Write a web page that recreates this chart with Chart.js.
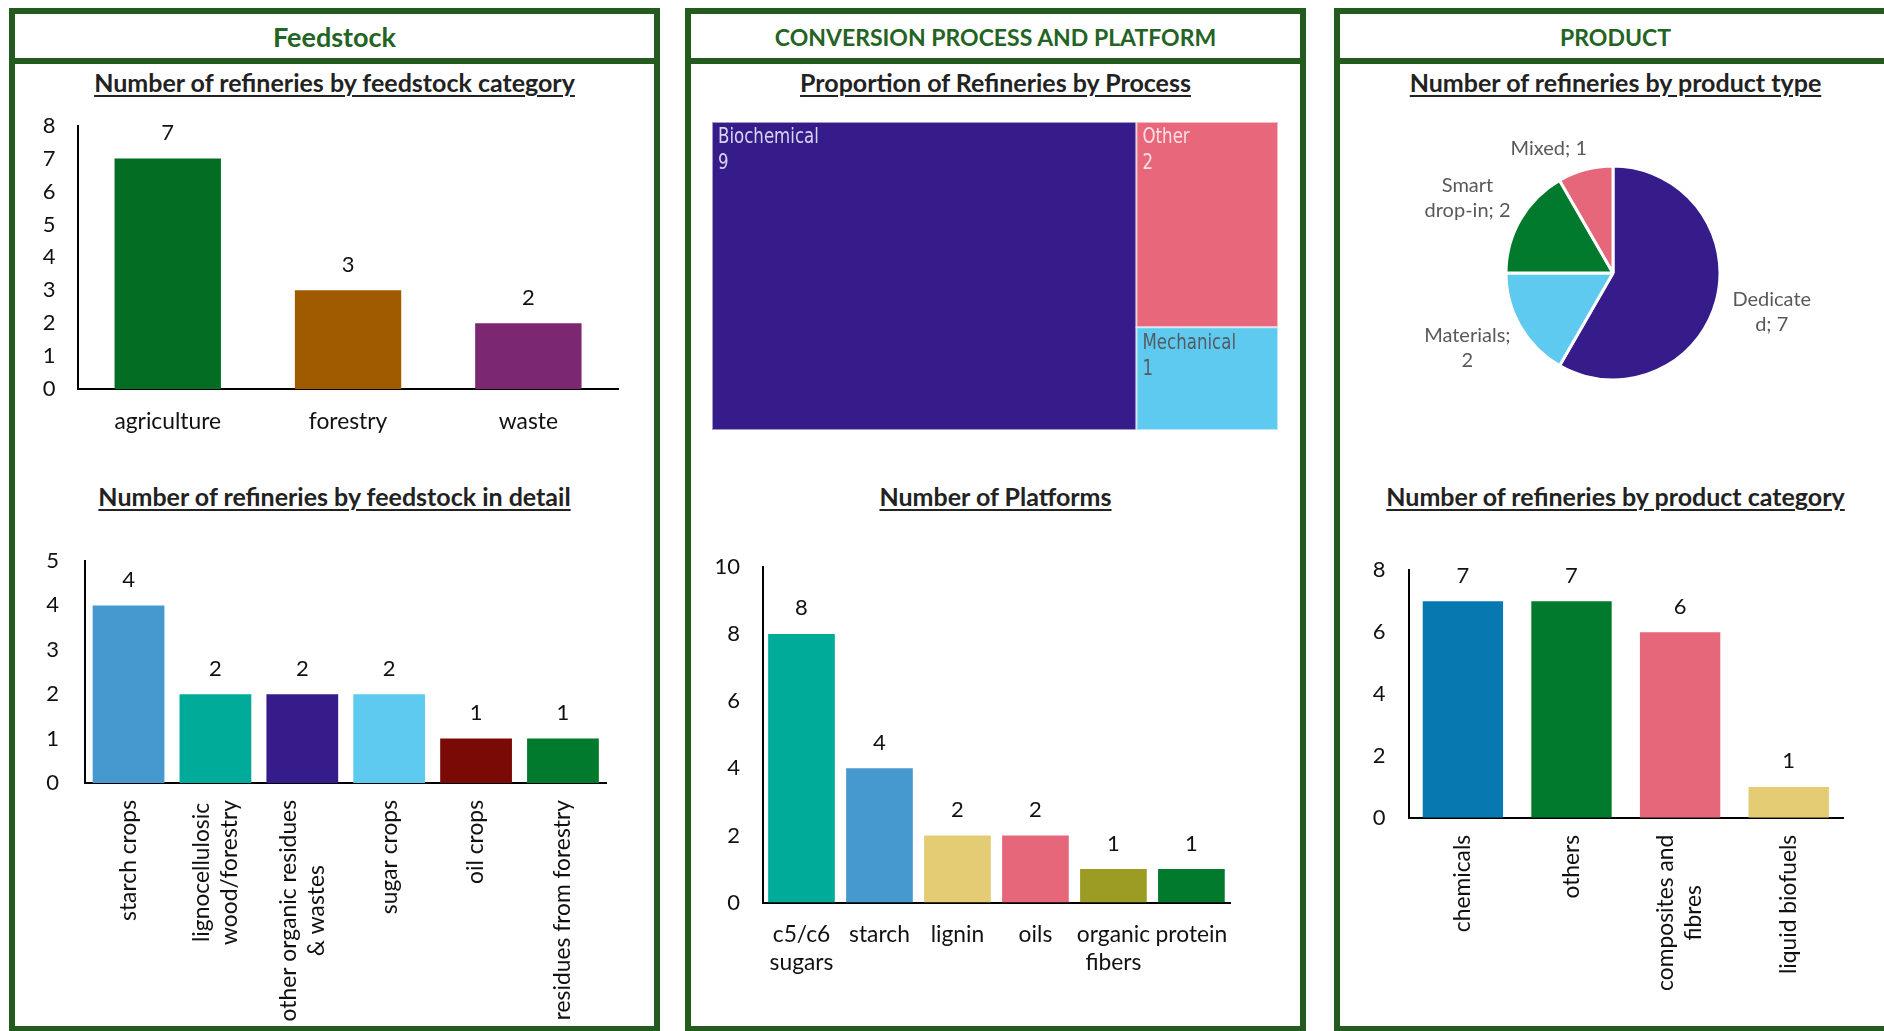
<!DOCTYPE html>
<html>
<head>
<meta charset="utf-8">
<title>Biorefineries overview</title>
<script src="https://cdn.jsdelivr.net/npm/chart.js@4.4.1/dist/chart.umd.min.js"></script>
<style>
  html, body { margin: 0; padding: 0; background: #ffffff; }
  body { width: 1884px; height: 1031px; position: relative; overflow: hidden; font-family: Lato, "Open Sans", sans-serif; }
  .panel { position: absolute; box-sizing: border-box; border: 6px solid #235b1f; top: 8px; height: 1024px; }
  .head { position: absolute; left: 0; right: 0; top: 0; height: 44px; border-bottom: 6px solid #235b1f;
          color: #236323; font-weight: 700; font-size: 23px; line-height: 46px; text-align: center; }
  .title { position: absolute; left: 0; right: 0; text-align: center; font-weight: 700; font-size: 25px;
           line-height: 30px; color: #222; }
  .title span { text-decoration: underline; text-decoration-thickness: 2px; text-underline-offset: 3px; }
  canvas { position: absolute; }
</style>
</head>
<body>

<div class="panel" style="left:9px; width:651px;">
  <div class="head" style="font-size:27px;">Feedstock</div>
  <div class="title" style="top:53px;"><span>Number of refineries by feedstock category</span></div>
  <div class="title" style="top:467px;"><span>Number of refineries by feedstock in detail</span></div>
</div>
<div class="panel" style="left:685px; width:621px;">
  <div class="head">CONVERSION PROCESS AND PLATFORM</div>
  <div class="title" style="top:53px;"><span>Proportion of Refineries by Process</span></div>
  <div class="title" style="top:467px;"><span>Number of Platforms</span></div>
</div>
<div class="panel" style="left:1334px; width:563px;">
  <div class="head">PRODUCT</div>
  <div class="title" style="top:53px;"><span>Number of refineries by product type</span></div>
  <div class="title" style="top:467px;"><span>Number of refineries by product category</span></div>
</div>

<canvas id="feedstockChart"></canvas>
<canvas id="feedstockDetailChart"></canvas>
<canvas id="processChart"></canvas>
<canvas id="platformChart"></canvas>
<canvas id="productTypeChart"></canvas>
<canvas id="productCategoryChart"></canvas>

<script>
// ---- data ----
const feedstockCategories = ['agriculture', 'forestry', 'waste'];
const feedstockCounts = [7, 3, 2];

const feedstockDetailLabels = ['starch crops', ['lignocellulosic', 'wood/forestry'], ['other organic residues', '& wastes'], 'sugar crops', 'oil crops', 'residues from forestry'];
const feedstockDetailCounts = [4, 2, 2, 2, 1, 1];

const processNames = ['Biochemical', 'Other', 'Mechanical'];
const processCounts = [9, 2, 1];

const platformLabels = [['c5/c6', 'sugars'], 'starch', 'lignin', 'oils', ['organic', 'fibers'], 'protein'];
const platformCounts = [8, 4, 2, 2, 1, 1];

const productTypes = ['Dedicated', 'Materials', 'Smart drop-in', 'Mixed'];
const productTypeCounts = [7, 2, 2, 1];

const productCategoryLabels = ['chemicals', 'others', ['composites and', 'fibres'], 'liquid biofuels'];
const productCategoryCounts = [7, 7, 6, 1];

// value-axis tick ranges
const feedstockAxis = { max: 8, step: 1 };
const feedstockDetailAxis = { max: 5, step: 1 };
const platformAxis = { max: 10, step: 2 };
const productCategoryAxis = { max: 8, step: 2 };

// ---- colours ----
const C = {
  green: '#017a2d', darkGreen: '#036e23', brown: '#a05a00', plum: '#7b2870',
  blue: '#4599cf', teal: '#00ac99', indigo: '#351c8a', sky: '#5ecaef',
  maroon: '#790a05', sand: '#e3cc74', rose: '#e7677a', olive: '#9c9b24', ocean: '#0878b0'
};

const TEXT = '#111111';
const FONT = 'Lato, "Open Sans", sans-serif';

// ---- plugins ----
const valueLabels = {
  id: 'valueLabels',
  afterDatasetsDraw(chart, args, opts) {
    const ctx = chart.ctx;
    const meta = chart.getDatasetMeta(0);
    const values = chart.data.datasets[0].data;
    ctx.save();
    ctx.font = opts.size + 'px ' + FONT;
    ctx.fillStyle = TEXT;
    ctx.textAlign = 'center';
    ctx.textBaseline = 'middle';
    meta.data.forEach((bar, i) => ctx.fillText(String(values[i]), bar.x, bar.y - opts.offset));
    ctx.restore();
  }
};

const categoryLabels = {
  id: 'categoryLabels',
  afterDraw(chart, args, opts) {
    const ctx = chart.ctx;
    const xs = chart.scales.x;
    const base = xs.top;
    ctx.save();
    ctx.font = opts.size + 'px ' + FONT;
    ctx.fillStyle = TEXT;
    ctx.textAlign = 'center';
    ctx.textBaseline = 'middle';
    chart.data.labels.forEach((lab, i) => {
      const lines = Array.isArray(lab) ? lab : [lab];
      const x = xs.getPixelForValue(i);
      if (opts.rotate) {
        const maxW = Math.max(...lines.map(l => ctx.measureText(l).width));
        ctx.save();
        ctx.translate(x, base + opts.gap + maxW / 2);
        ctx.rotate(-Math.PI / 2);
        const n = lines.length;
        lines.forEach((l, j) => ctx.fillText(l, 0, (j - (n - 1) / 2) * opts.lineHeight));
        ctx.restore();
      } else {
        lines.forEach((l, j) => ctx.fillText(l, x, base + opts.gap + j * opts.lineHeight));
      }
    });
    ctx.restore();
  }
};

// place a canvas on the page and return its context
function placeCanvas(id, box) {
  const cv = document.getElementById(id);
  cv.style.left = box.left + 'px';
  cv.style.top = box.top + 'px';
  cv.width = box.width;
  cv.height = box.height;
  cv.style.width = box.width + 'px';
  cv.style.height = box.height + 'px';
  return cv.getContext('2d');
}

// vertical bar chart with plot area given in page pixels
function columnChart(id, box, area, labels, values, colors, axis, style) {
  const ctx = placeCanvas(id, box);
  return new Chart(ctx, {
    type: 'bar',
    data: {
      labels: labels,
      datasets: [{ data: values, backgroundColor: colors, borderWidth: 0,
                   categoryPercentage: 1, barPercentage: style.barRatio }]
    },
    options: {
      responsive: false, animation: false, devicePixelRatio: 1,
      layout: { padding: { left: 0, top: area.top - box.top,
                           right: box.left + box.width - area.right, bottom: 0 } },
      scales: {
        x: {
          grid: { display: false, drawTicks: false },
          border: { display: true, color: '#000', width: 2 },
          ticks: { display: false },
          afterFit: s => { s.height = box.top + box.height - area.bottom; }
        },
        y: {
          min: 0, max: axis.max,
          grid: { display: false, drawTicks: false },
          border: { display: true, color: '#000', width: 2 },
          ticks: { stepSize: axis.step, padding: style.tickPad, color: TEXT,
                   font: { family: FONT, size: 22 } },
          afterFit: s => { s.width = area.left - box.left; s.paddingTop = 0; s.paddingBottom = 0; }
        }
      },
      plugins: {
        legend: { display: false }, tooltip: { enabled: false },
        valueLabels: { size: 22, offset: 25.5 },
        categoryLabels: { size: 22.8, rotate: style.rotate, gap: style.labelGap, lineHeight: 28 }
      }
    },
    plugins: [valueLabels, categoryLabels]
  });
}

// ---- Feedstock panel ----
columnChart('feedstockChart',
  { left: 16, top: 80, width: 630, height: 360 },
  { left: 77.6, right: 618.5, top: 125.7, bottom: 389 },
  feedstockCategories, feedstockCounts, [C.darkGreen, C.brown, C.plum], feedstockAxis,
  { barRatio: 0.59, tickPad: 22, rotate: false, labelGap: 32.5 });

columnChart('feedstockDetailChart',
  { left: 16, top: 500, width: 630, height: 526 },
  { left: 85.1, right: 606.4, top: 561, bottom: 783 },
  feedstockDetailLabels, feedstockDetailCounts,
  [C.blue, C.teal, C.indigo, C.sky, C.maroon, C.green], feedstockDetailAxis,
  { barRatio: 0.826, tickPad: 26, rotate: true, labelGap: 17 });

// ---- Conversion process panel: slice-and-dice treemap on linear scales ----
const treemapCells = {
  id: 'treemapCells',
  afterDatasetsDraw(chart, args, opts) {
    const { ctx, scales: { x, y } } = chart;
    const vals = opts.values;
    const total = vals.reduce((a, b) => a + b, 0);
    // first item fills a full-height column, the rest stack in the remaining column
    const cells = [{ x0: 0, x1: vals[0], y0: 0, y1: 1 }];
    const rest = total - vals[0];
    let acc = 1;
    for (let i = 1; i < vals.length; i++) {
      const h = vals[i] / rest;
      cells.push({ x0: vals[0], x1: total, y0: acc - h, y1: acc });
      acc -= h;
    }
    ctx.save();
    cells.forEach((c, i) => {
      const px0 = x.getPixelForValue(c.x0), px1 = x.getPixelForValue(c.x1);
      const py0 = y.getPixelForValue(c.y1), py1 = y.getPixelForValue(c.y0);
      ctx.fillStyle = opts.colors[i];
      ctx.fillRect(px0, py0, px1 - px0, py1 - py0);
      ctx.strokeStyle = 'rgba(255,255,255,0.55)';
      ctx.lineWidth = 2;
      ctx.strokeRect(px0, py0, px1 - px0, py1 - py0);
      // condensed label text
      ctx.save();
      ctx.translate(px0 + 6, py0);
      ctx.scale(0.88, 1);
      ctx.fillStyle = opts.textColors[i];
      ctx.font = '21px "Liberation Sans Narrow", "DejaVu Sans Condensed", "Liberation Sans", sans-serif';
      ctx.textAlign = 'left';
      ctx.textBaseline = 'middle';
      ctx.fillText(opts.names[i], 0, 16);
      ctx.fillText(String(vals[i]), 0, 42);
      ctx.restore();
    });
    ctx.restore();
  }
};

(function () {
  const box = { left: 712, top: 122, width: 566, height: 308 };
  const ctx = placeCanvas('processChart', box);
  const total = processCounts.reduce((a, b) => a + b, 0);
  new Chart(ctx, {
    type: 'scatter',
    data: { datasets: [{ data: [], pointRadius: 0 }] },
    options: {
      responsive: false, animation: false, devicePixelRatio: 1,
      layout: { padding: 0 },
      scales: {
        x: { type: 'linear', min: 0, max: total, display: false },
        y: { type: 'linear', min: 0, max: 1, display: false }
      },
      plugins: {
        legend: { display: false }, tooltip: { enabled: false },
        treemapCells: { values: processCounts, names: processNames,
                        colors: [C.indigo, '#e8677a', C.sky],
                        textColors: ['#d9d5ee', '#fbe1e5', '#555b62'] }
      }
    },
    plugins: [treemapCells]
  });
})();

columnChart('platformChart',
  { left: 700, top: 510, width: 590, height: 480 },
  { left: 762.5, right: 1230.4, top: 566.7, bottom: 902.6 },
  platformLabels, platformCounts,
  [C.teal, C.blue, C.sand, C.rose, C.olive, C.green], platformAxis,
  { barRatio: 0.855, tickPad: 22.5, rotate: false, labelGap: 32.5 });

// ---- Product panel: pie with outside labels ----
const pieLabels = {
  id: 'pieLabels',
  afterDatasetsDraw(chart, args, opts) {
    const ctx = chart.ctx;
    const meta = chart.getDatasetMeta(0);
    const values = chart.data.datasets[0].data;
    ctx.save();
    ctx.font = opts.size + 'px ' + FONT;
    ctx.fillStyle = opts.color;
    ctx.textAlign = 'center';
    ctx.textBaseline = 'middle';
    const maxW = opts.wrapEm * opts.size;
    meta.data.forEach((arc, i) => {
      const text = chart.data.labels[i] + '; ' + values[i];
      // wrap on spaces, splitting words that do not fit
      const lines = [];
      let cur = '';
      text.split(' ').forEach(word => {
        const trial = cur ? cur + ' ' + word : word;
        if (ctx.measureText(trial).width <= maxW) { cur = trial; return; }
        if (cur) { lines.push(cur); cur = ''; }
        let w = word;
        while (ctx.measureText(w).width > maxW) {
          let k = w.length - 1;
          while (k > 1 && ctx.measureText(w.slice(0, k)).width > maxW) k--;
          lines.push(w.slice(0, k));
          w = w.slice(k);
        }
        cur = w;
      });
      if (cur) lines.push(cur);

      const p = arc.getProps(['x', 'y', 'startAngle', 'endAngle', 'outerRadius'], true);
      const mid = (p.startAngle + p.endAngle) / 2;
      const cos = Math.cos(mid), sin = Math.sin(mid);
      const r = p.outerRadius + opts.gap;
      const w = Math.max(...lines.map(l => ctx.measureText(l).width));
      const h = lines.length * opts.lineHeight;
      const nudge = opts.nudge[i] || [0, 0];
      const cx = p.x + r * cos + cos * w / 2 + nudge[0];
      const cy = p.y + r * sin + sin * h / 2 + nudge[1];
      lines.forEach((l, j) => ctx.fillText(l, cx, cy + (j - (lines.length - 1) / 2) * opts.lineHeight));
    });
    ctx.restore();
  }
};

(function () {
  const box = { left: 1400, top: 110, width: 460, height: 320 };
  const center = { x: 1613, y: 273 };
  const radius = 108.5;
  const ctx = placeCanvas('productTypeChart', box);
  new Chart(ctx, {
    type: 'pie',
    data: {
      labels: productTypes,
      datasets: [{ data: productTypeCounts, backgroundColor: [C.indigo, C.sky, C.green, C.rose],
                   borderColor: '#ffffff', borderWidth: 3 }]
    },
    options: {
      responsive: false, animation: false, devicePixelRatio: 1,
      layout: { padding: {
        left: center.x - radius - box.left,
        right: box.left + box.width - center.x - radius,
        top: center.y - radius - box.top,
        bottom: box.top + box.height - center.y - radius } },
      plugins: {
        legend: { display: false }, tooltip: { enabled: false },
        pieLabels: { size: 20, color: '#595959', gap: 18, lineHeight: 25, wrapEm: 4.42,
                     nudge: [[0, 0], [0, 0], [0, 0], [-22, 8]] }
      }
    },
    plugins: [pieLabels]
  });
})();

columnChart('productCategoryChart',
  { left: 1345, top: 510, width: 530, height: 516 },
  { left: 1408.6, right: 1843, top: 570.4, bottom: 817.8 },
  productCategoryLabels, productCategoryCounts,
  [C.ocean, C.green, C.rose, C.sand], productCategoryAxis,
  { barRatio: 0.74, tickPad: 23, rotate: true, labelGap: 17 });
</script>
</body>
</html>
